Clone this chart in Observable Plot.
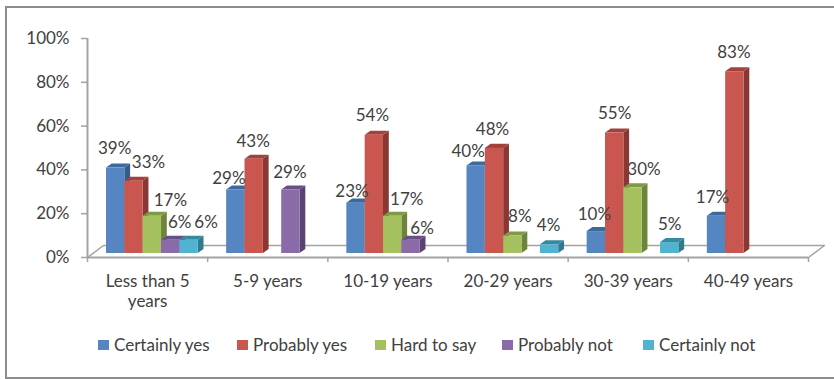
<!DOCTYPE html>
<html>
<head>
<meta charset="utf-8">
<script src="https://cdn.jsdelivr.net/npm/d3@7"></script>
<script src="https://cdn.jsdelivr.net/npm/@observablehq/plot@0.6"></script>
<style>
  html, body { margin: 0; background: #fff; }
  #chart { position: relative; width: 834px; height: 379px; overflow: hidden; font-family: Lato, sans-serif; color: #404040; }
  #chart svg { position: absolute; left: 0; top: 0; }
  #border { position: absolute; box-sizing: border-box; left: 5px; top: 6px; width: 860px; height: 373px; border: 2px solid #8c8c8c; }
  .key { position: absolute; top: 335px; font-size: 17px; line-height: 20px; white-space: nowrap; }
  .key i { position: absolute; left: 0; top: 5px; width: 11px; height: 10px; }
  .key span { margin-left: 16px; }
</style>
</head>
<body>
<div id="chart"><div id="border"></div></div>
<script>
// Survey answers by length of service, in percent.
const categories = ["Less than 5\nyears", "5-9 years", "10-19 years", "20-29 years", "30-39 years", "40-49 years"];
const seriesNames = ["Certainly yes", "Probably yes", "Hard to say", "Probably not", "Certainly not"];
const certainlyYes = [39, 29, 23, 40, 10, 17];
const probablyYes = [33, 43, 54, 48, 55, 83];
const hardToSay = [17, null, 17, 8, 30, null];
const probablyNot = [6, 29, 6, null, null, null];
const certainlyNot = [6, null, null, 4, 5, null];
const seriesValues = [certainlyYes, probablyYes, hardToSay, probablyNot, certainlyNot];

// Face colours per series: front, top, side.
const frontColors = ["#5586c2", "#c9574f", "#a4c05f", "#8a6ba8", "#51b3cf"];
const topColors = ["#3d6a9e", "#a5413c", "#7f9a45", "#694f88", "#38899f"];
const sideColors = ["#355c8c", "#8a3632", "#6d853a", "#5a4275", "#2f7a8e"];

// Hand-placed value label offsets in pixels, [dx, dy] from the top centre of each bar.
const labelNudges = [
  [[-1, -20], [14.5, -19], [18, -16], [9, -18], [17, -18]],
  [[-7, -11.5], [-1, -18], null, [-1, -17], null],
  [[-4, -12], [-2, -20], [14, -17], [11, -12], null],
  [[-8, -14], [-2, -19], [7, -19], null, [-1, -19]],
  [[-2, -17], [0, -20], [11, -18], null, [0, -18]],
  [[-4, -19], [-1, -19], null, null, null]
];

// Layout of the pseudo-3D boxes in scale units: one category is 1 on x, one percent is 1 on y.
const groupInset = 0.158, barWidth = 0.1527, depthX = 0.048, depthY = 1.83;
const floorX = 0.133, floorY = 5.48, baseLift = -4;
const textSize = 17;

const bars = [];
categories.forEach((category, g) => {
  seriesNames.forEach((name, s) => {
    const value = seriesValues[s][g];
    if (value == null) return;
    const x1 = g + groupInset + s * barWidth;
    bars.push({id: `${g}-${s}`, g, s, value, x1, x2: x1 + barWidth});
  });
});
const sideFaces = bars.flatMap(b => [
  {id: b.id, fill: sideColors[b.s], x: b.x2, low: 0, high: b.value},
  {id: b.id, fill: sideColors[b.s], x: b.x2 + depthX, low: depthY, high: b.value + depthY}
]);
const topFaces = bars.flatMap(b => [
  {id: b.id, fill: topColors[b.s], y: b.value, left: b.x1, right: b.x2},
  {id: b.id, fill: topColors[b.s], y: b.value + depthY, left: b.x1 + depthX, right: b.x2 + depthX}
]);

const gray = "#a3a3a3";
const floorOutline = [[0, 0], [floorX, floorY], [6 + floorX, floorY], [6, 0]];

const labelMarks = bars.map(b => {
  const [dx, dy] = labelNudges[b.g][b.s];
  return Plot.text([b], {
    x: d => (d.x1 + d.x2) / 2,
    y: "value",
    text: d => d.value + "%",
    dx,
    dy: dy - 4,
    fontSize: textSize,
    fill: "#404040"
  });
});

const plot = Plot.plot({
  width: 834,
  height: 379,
  marginLeft: 87,
  marginRight: 26,
  marginTop: 38,
  marginBottom: 122,
  style: {background: "transparent", fontFamily: "Lato, sans-serif"},
  x: {type: "linear", domain: [0, 6]},
  y: {domain: [0, 100]},
  marks: [
    Plot.line(floorOutline, {stroke: gray, strokeWidth: 1.5}),
    Plot.ruleY([0], {stroke: gray, strokeWidth: 2}),
    Plot.ruleX([0], {y1: 0, y2: 100, stroke: gray, strokeWidth: 2}),
    Plot.axisY({
      ticks: d3.range(0, 101, 20),
      tickFormat: d => d + "%",
      tickSize: 6,
      tickPadding: 12,
      strokeWidth: 1.5,
      stroke: gray,
      fill: "#404040",
      fontSize: textSize,
      label: null
    }),
    Plot.axisX({
      ticks: d3.range(0, 7),
      tickSize: 5,
      strokeWidth: 1.5,
      stroke: gray,
      text: null,
      label: null
    }),
    Plot.text(categories, {
      x: (d, i) => i + 0.5,
      y: 0,
      text: d => d,
      dy: 15,
      lineAnchor: "top",
      lineHeight: 1.18,
      fontSize: textSize,
      fill: "#404040"
    }),
    Plot.areaY(sideFaces, {x: "x", y1: "low", y2: "high", z: "id", fill: "fill", dy: baseLift}),
    Plot.areaX(topFaces, {y: "y", x1: "left", x2: "right", z: "id", fill: "fill", dy: baseLift}),
    Plot.rect(bars, {
      x1: "x1",
      x2: "x2",
      y1: 0,
      y2: "value",
      fill: d => frontColors[d.s],
      dy: baseLift
    }),
    ...labelMarks
  ]
});
const chart = document.getElementById("chart");
chart.appendChild(plot);

// Key below the plot.
const keyLefts = [98, 237, 375, 502, 643];
seriesNames.forEach((name, i) => {
  const key = document.createElement("div");
  key.className = "key";
  key.style.left = keyLefts[i] + "px";
  key.innerHTML = `<i style="background:${frontColors[i]}"></i><span>${name}</span>`;
  chart.appendChild(key);
});
</script>
</body>
</html>
